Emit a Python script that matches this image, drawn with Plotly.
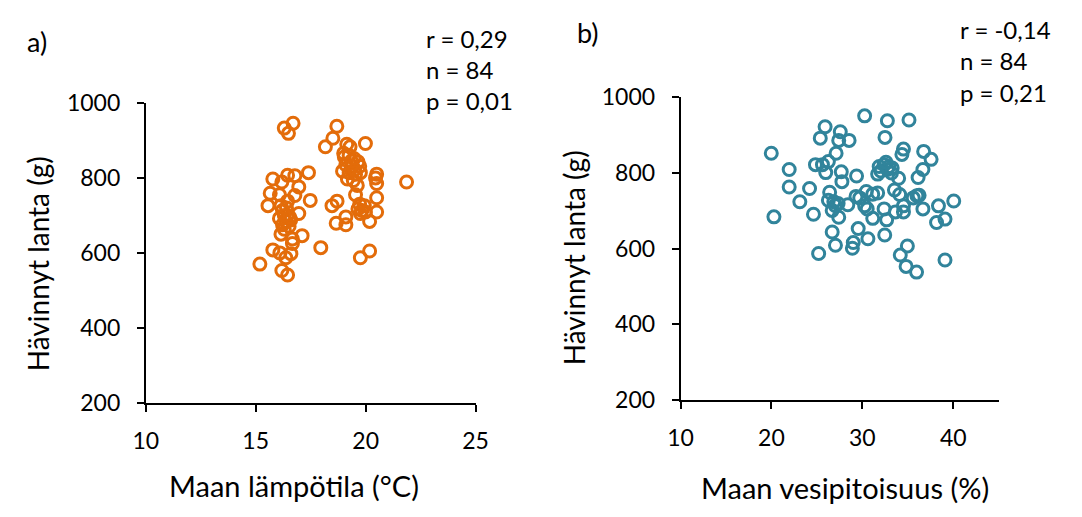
import plotly.graph_objects as go

# Panel a) soil temperature (°C) vs lost manure (g)
temp_x = [16.30, 16.70, 16.49, 18.69, 18.51, 18.17, 19.14, 19.29, 19.99, 19.03,
          19.25, 19.47, 19.65, 19.10, 19.40, 19.73, 18.95, 19.25, 19.54, 19.76,
          19.17, 19.44, 19.62, 19.54, 20.50, 20.50, 20.50, 20.50, 20.18, 21.86,
          19.73, 19.94, 19.83, 19.65, 19.99, 19.76, 18.47, 18.70, 18.66, 19.10,
          19.10, 17.96, 19.76, 20.18, 15.78, 16.19, 16.45, 16.78, 17.40, 16.96,
          15.66, 16.08, 16.78, 16.45, 17.48, 15.56, 16.15, 16.96, 16.22, 16.45,
          16.08, 16.37, 16.59, 16.22, 16.52, 16.30, 17.11, 16.15, 16.67, 16.67,
          15.78, 16.37, 15.19, 16.19, 16.45, 16.10, 19.35, 19.50, 16.40, 16.55,
          20.45, 16.30, 19.00, 16.60]
temp_y = [933, 946, 919, 938, 906, 883, 890, 883, 892, 856,
          860, 852, 843, 835, 831, 831, 818, 814, 810, 814,
          797, 793, 780, 755, 810, 785, 747, 709, 684, 789,
          730, 726, 713, 717, 709, 705, 726, 738, 679, 696,
          675, 614, 587, 605, 797, 789, 807, 806, 814, 776,
          759, 755, 753, 738, 740, 726, 726, 705, 713, 700,
          692, 684, 688, 675, 671, 663, 646, 650, 637, 625,
          608, 587, 570, 553, 541, 600, 845, 822, 720, 695,
          800, 700, 866, 598]

# Panel b) soil moisture (%) vs lost manure (g)
moist_x = [30.25, 32.75, 35.13, 25.90, 27.57, 25.37, 27.40, 28.54, 32.49, 19.98,
           27.11, 34.52, 34.35, 36.74, 37.56, 21.95, 24.84, 25.61, 26.26, 25.97,
           27.68, 27.75, 29.36, 31.85, 32.39, 32.92, 32.03, 32.75, 33.28, 31.68,
           33.99, 36.13, 36.66, 21.95, 24.19, 23.12, 26.40, 26.26, 26.86, 27.33,
           28.40, 26.68, 27.40, 24.62, 20.27, 29.71, 30.43, 31.14, 31.68, 30.25,
           30.53, 31.14, 32.39, 32.67, 33.53, 34.10, 33.64, 34.52, 34.52, 35.59,
           36.24, 36.66, 38.37, 40.05, 38.16, 39.09, 26.68, 29.54, 30.61, 32.46,
           27.04, 29.00, 28.90, 25.19, 34.95, 34.17, 34.81, 35.96, 39.09, 32.60,
           27.00, 29.30, 33.20, 36.00]
moist_y = [951, 938, 940, 922, 909, 892, 886, 886, 894, 852,
           852, 863, 849, 857, 836, 809, 822, 822, 830, 801,
           803, 777, 792, 817, 822, 817, 805, 809, 813, 797,
           786, 788, 809, 763, 759, 724, 749, 728, 724, 719,
           716, 701, 683, 691, 684, 734, 751, 744, 747, 713,
           705, 680, 705, 676, 755, 743, 697, 697, 713, 734,
           741, 705, 713, 726, 669, 678, 644, 653, 626, 636,
           609, 616, 601, 587, 607, 583, 553, 538, 570, 828,
           714, 738, 800, 740]

y_ticks = [200, 400, 600, 800, 1000]
temp_ticks = [10, 15, 20, 25]
moist_ticks = [10, 20, 30, 40]

ORANGE = "#E36C0A"
TEAL = "#31849B"
FONT = "Lato"
W, H = 1082, 517

fig = go.Figure()
fig.add_trace(go.Scatter(x=temp_x, y=temp_y, mode="markers", xaxis="x", yaxis="y",
                         marker=dict(symbol="circle-open", size=12, color=ORANGE,
                                     line=dict(width=3, color=ORANGE)),
                         showlegend=False))
fig.add_trace(go.Scatter(x=moist_x, y=moist_y, mode="markers", xaxis="x2", yaxis="y2",
                         marker=dict(symbol="circle-open", size=12, color=TEAL,
                                     line=dict(width=3, color=TEAL)),
                         showlegend=False))

def px(x):
    return x / W

def py(y):
    return 1 - y / H

axis_common = dict(showline=True, linecolor="black", linewidth=1.75, ticks="outside",
                   ticklen=7, tickwidth=1.75, tickcolor="black", showgrid=False,
                   zeroline=False, tickfont=dict(family=FONT, size=23, color="black"))

fig.update_layout(
    width=W, height=H, margin=dict(l=0, r=0, t=0, b=0),
    paper_bgcolor="white", plot_bgcolor="white",
    xaxis=dict(domain=[px(136), px(474)], range=[10, 25], tickvals=temp_ticks,
               anchor="y", ticklabelstandoff=10, **axis_common),
    yaxis=dict(domain=[py(410), py(93)], range=[200, 1000], tickvals=y_ticks,
               anchor="x", ticklabelstandoff=12, **axis_common),
    xaxis2=dict(domain=[px(684), px(1010)], range=[10, 45], tickvals=moist_ticks,
                anchor="y2", ticklabelstandoff=10, **axis_common),
    yaxis2=dict(domain=[py(407), py(87)], range=[200, 1000], tickvals=y_ticks,
                anchor="x2", ticklabelstandoff=12, **axis_common),
)

def ann(text, x, y, size, xanchor="center", yanchor="middle", angle=0):
    fig.add_annotation(text=text, x=px(x), y=py(y), xref="paper", yref="paper",
                       showarrow=False, xanchor=xanchor, yanchor=yanchor,
                       textangle=angle, font=dict(family=FONT, size=size, color="black"))

ann("a)", 12, 28, 27, xanchor="left")
ann("b)", 576, 19, 27, xanchor="left")
for i, t in enumerate(["r = 0,29", "n = 84", "p = 0,01"]):
    ann(t, 421, 25 + i * 32.5, 24, xanchor="left")
for i, t in enumerate(["r = -0,14", "n = 84", "p = 0,21"]):
    ann(t, 968, 15 + i * 33.5, 24, xanchor="left")
ann("Maan lämpötila (°C)", 288, 497, 29)
ann("Maan vesipitoisuus (%)", 852, 500, 29)
ann("Hävinnyt lanta (g)", 25, 263, 28, angle=-90)
ann("Hävinnyt lanta (g)", 575, 257, 28, angle=-90)

fig.write_html("out.html", post_script="document.body.style.margin='0';",
               config={"displayModeBar": False})
